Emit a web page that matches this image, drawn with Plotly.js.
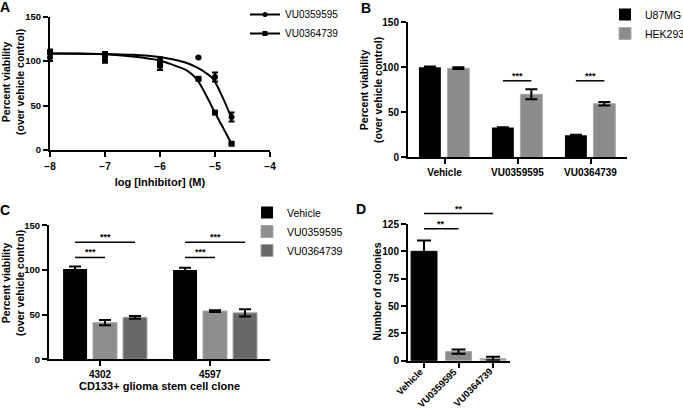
<!DOCTYPE html>
<html><head><meta charset="utf-8">
<script src="https://cdn.plot.ly/plotly-3.0.1.min.js"></script>
<style>html,body{margin:0;padding:0;background:#fff}#chart{width:683px;height:409px}</style>
</head><body><div id="chart"></div>
<script>
// ---------- Panel A : dose response ----------
const logDose   = [-8, -7, -6, -5.301, -5, -4.699];
const vu595Mean = [104, 101, 101, 104, 82, 37];
const vu595Err  = [4, 3, 3, 0, 5, 5];
const vu739Mean = [110, 107, 95, 80, 42, 7];
const vu739Err  = [3, 3, 5, 0, 0, 0];
// fitted curves
const fitLog = [-8, -7.5, -7, -6.5, -6, -5.83, -5.5, -5.34, -5.19, -5.04, -4.88, -4.7];
const fit595 = [108.5, 108.3, 108, 107, 104.5, 102.6, 97.5, 93, 87.6, 80.2, 61.6, 36];
const fit739 = [108.5, 108.2, 107.5, 105, 100.5, 97, 89, 80.2, 65, 46.7, 28, 7];
const compoundNames = ['VU0359595', 'VU0364739'];

// ---------- Panel B : cell lines ----------
const treatments = ['Vehicle', 'VU0359595', 'VU0364739'];
const cellLines  = ['U87MG', 'HEK293'];
const u87Mean = [100, 33, 24.5];
const u87Err  = [1, 0.5, 0.5];
const hekMean = [99, 70, 59.5];
const hekErr  = [1, 5.5, 2];
const sigBCats  = [1, 2];
const sigBLevel = [85, 85];
const sigBText  = ['***', '***'];

// ---------- Panel C : glioma stem cell clones ----------
const clones   = ['4302', '4597'];
const cSeries  = ['Vehicle', 'VU0359595', 'VU0364739'];
const cVehMean = [101, 100];
const cVehErr  = [3, 2.5];
const c595Mean = [41, 54];
const c595Err  = [3, 1];
const c739Mean = [47, 52];
const c739Err  = [1.5, 4];
const sigCClone = [0, 0, 1, 1];
const sigCTo    = [2, 1, 2, 1];   // series index compared with vehicle
const sigCLevel = [131, 114, 131, 114];
const sigCText  = ['***', '***', '***', '***'];

// ---------- Panel D : colonies ----------
const colonyCats = ['Vehicle', 'VU0359595', 'VU0364739'];
const colonyMean = [100, 8.3, 2];
const colonyErr  = [10, 2, 1.5];
const sigDTo    = [2, 1];
const sigDLevel = [134.5, 120.6];
const sigDText  = ['**', '**'];

// ---------- styling ----------
const FONT = 'Liberation Sans, Arial, Helvetica, sans-serif';
const tickF = {family: FONT, size: 10, color: '#000', weight: 'bold'};
const tickFs = {family: FONT, size: 9.5, color: '#000', weight: 'bold'};
const titleF = {family: FONT, size: 11, color: '#000', weight: 'bold'};
const yTitleF = {family: FONT, size: 10.5, color: '#000', weight: 'bold'};
const legF = {family: FONT, size: 10.5, color: '#000'};
function errB(arr, w) { return {type: 'data', array: arr, visible: true, color: '#000', thickness: 2, width: w}; }
const W = 683, H = 409;

// subplot geometry (pixels)
const domA = {x: [50 / W, 270 / W], y: [1 - 150 / H, 1 - 16.5 / H], r: [0, 150]};
const domB = {x: [408 / W, 627 / W], y: [1 - 157.3 / H, 1 - 22.3 / H], r: [0, 150]};
const domC = {x: [49 / W, 270 / W], y: [1 - 359.3 / H, 1 - 225.3 / H], r: [0, 150]};
const domD = {x: [408 / W, 510 / W], y: [1 - 360.7 / H, 1 - 224 / H], r: [0, 125]};

const traces = [];
// Panel A
traces.push({x: fitLog, y: fit595, mode: 'lines', line: {color: '#000', width: 2, shape: 'spline', smoothing: 1}, xaxis: 'x', yaxis: 'y', showlegend: false, hoverinfo: 'skip'});
traces.push({x: fitLog, y: fit739, mode: 'lines', line: {color: '#000', width: 2, shape: 'spline', smoothing: 1}, xaxis: 'x', yaxis: 'y', showlegend: false, hoverinfo: 'skip'});
traces.push({x: logDose, y: vu595Mean, mode: 'markers', marker: {symbol: 'circle', size: 6, color: '#000'}, error_y: errB(vu595Err, 3), cliponaxis: false, xaxis: 'x', yaxis: 'y', showlegend: false});
traces.push({x: logDose, y: vu739Mean, mode: 'markers', marker: {symbol: 'square', size: 6, color: '#000'}, error_y: errB(vu739Err, 3), cliponaxis: false, xaxis: 'x', yaxis: 'y', showlegend: false});
traces.push({x: [null], y: [null], name: compoundNames[0], mode: 'lines+markers', marker: {symbol: 'circle', size: 5, color: '#000'}, line: {color: '#000', width: 2}, xaxis: 'x', yaxis: 'y', legend: 'legend'});
traces.push({x: [null], y: [null], name: compoundNames[1], mode: 'lines+markers', marker: {symbol: 'square', size: 5, color: '#000'}, line: {color: '#000', width: 2}, xaxis: 'x', yaxis: 'y', legend: 'legend'});

// Panel B
const bOff = [-0.35, 0.04], bW = 0.3;
traces.push({type: 'bar', x: treatments, y: u87Mean, name: cellLines[0], offset: bOff[0], width: bW, marker: {color: '#000'}, error_y: errB(u87Err, 6), xaxis: 'x2', yaxis: 'y2', legend: 'legend2'});
traces.push({type: 'bar', x: treatments, y: hekMean, name: cellLines[1], offset: bOff[1], width: bW, marker: {color: '#8c8c8c', line: {color: '#ababab', width: 1}}, error_y: errB(hekErr, 6), xaxis: 'x2', yaxis: 'y2', legend: 'legend2'});

// Panel C
const cOff = [-0.336, -0.064, 0.209], cW = 0.218;
const cColors = ['#000', '#8e8e8e', '#686868'];
const cMeans = [cVehMean, c595Mean, c739Mean], cErrs = [cVehErr, c595Err, c739Err];
for (let i = 0; i < 3; i++) {
  traces.push({type: 'bar', x: clones, y: cMeans[i], name: cSeries[i], offset: cOff[i], width: cW,
    marker: {color: cColors[i], line: {color: i ? '#a5a5a5' : '#000', width: i ? 1 : 0}},
    error_y: errB(cErrs[i], 6), xaxis: 'x3', yaxis: 'y3', legend: 'legend3'});
}

// Panel D
const dW = 0.75;
traces.push({type: 'bar', x: colonyCats, y: colonyMean, offset: -dW / 2, width: dW,
  marker: {color: ['#000', '#8c8c8c', '#a3a3a3'], line: {color: ['#000', '#a8a8a8', '#b5b5b5'], width: 1}},
  error_y: errB(colonyErr, 7), xaxis: 'x4', yaxis: 'y4', showlegend: false});

// ---------- significance brackets ----------
const shapes = [], annotations = [];
function toPaperY(dom, v) { return dom.y[0] + (v - dom.r[0]) / (dom.r[1] - dom.r[0]) * (dom.y[1] - dom.y[0]); }
function sig(xref, dom, x0, x1, yv, txt) {
  const py = toPaperY(dom, yv);
  shapes.push({type: 'line', xref: xref, yref: 'paper', x0: x0, x1: x1, y0: py, y1: py, line: {color: '#000', width: 1.5}});
  annotations.push({xref: xref, yref: 'paper', x: (x0 + x1) / 2, y: py, text: txt, showarrow: false, yanchor: 'bottom', yshift: -2,
    font: {family: FONT, size: 9, color: '#000', weight: 'bold'}});
}
for (let i = 0; i < sigBCats.length; i++) {
  const c = sigBCats[i];
  sig('x2', domB, c + bOff[0] + bW / 2, c + bOff[1] + bW / 2, sigBLevel[i], sigBText[i]);
}
for (let i = 0; i < sigCClone.length; i++) {
  const c = sigCClone[i];
  sig('x3', domC, c + cOff[0] + cW / 2, c + cOff[sigCTo[i]] + cW / 2, sigCLevel[i], sigCText[i]);
}
for (let i = 0; i < sigDTo.length; i++) {
  sig('x4', domD, 0, sigDTo[i], sigDLevel[i], sigDText[i]);
}
// panel letters
const letters = [['A', 5, 7.5], ['B', 366, 8], ['C', 5, 210], ['D', 361, 209]];
letters.forEach(l => annotations.push({xref: 'paper', yref: 'paper', x: l[1] / W, y: 1 - l[2] / H, text: l[0], showarrow: false,
  xanchor: 'center', yanchor: 'middle', font: {family: FONT, size: 14, color: '#000', weight: 'bold'}}));
// y-axis titles (placed beside each axis)
const yTitles = [
  ['Percent viability<br>(over vehicle control)', 13, 82],
  ['Percent viability<br>(over vehicle control)', 371, 90],
  ['Percent viability<br>(over vehicle control)', 13, 283],
  ['Number of colonies', 376.5, 292]
];
yTitles.forEach(t => annotations.push({xref: 'paper', yref: 'paper', x: t[1] / W, y: 1 - t[2] / H, text: t[0], showarrow: false,
  textangle: -90, xanchor: 'center', yanchor: 'middle', font: yTitleF}));
// rotated category labels of panel D, ending at each tick
colonyCats.forEach((c, i) => annotations.push({xref: 'x4', yref: 'paper', x: i, y: 1 - 363 / H, text: c, showarrow: false,
  textangle: -45, xanchor: 'right', yanchor: 'top', xshift: 4, font: Object.assign({}, tickF, {size: 9.5})}));

function ax(extra) {
  return Object.assign({showline: true, linecolor: '#000', linewidth: 2, ticks: 'outside', ticklen: 5, tickwidth: 2, tickcolor: '#000',
    showgrid: false, zeroline: false, tickfont: tickF, fixedrange: true, automargin: false}, extra);
}
const legBase = {xref: 'container', yref: 'container', xanchor: 'left', yanchor: 'top', bgcolor: 'rgba(0,0,0,0)', traceorder: 'normal', borderwidth: 0};

const layout = {
  width: W, height: H, margin: {l: 0, r: 0, t: 0, b: 0, autoexpand: false}, paper_bgcolor: '#fff', plot_bgcolor: 'rgba(0,0,0,0)',
  barmode: 'overlay', showlegend: true, font: {family: FONT, color: '#000'},
  xaxis: ax({domain: domA.x, range: [-8, -4], tickvals: [-8, -7, -6, -5, -4], anchor: 'y', ticklabelstandoff: 1,
    title: {text: 'log [Inhibitor] (M)', font: titleF, standoff: 7}}),
  yaxis: ax({domain: domA.y, range: domA.r, tickvals: [0, 50, 100, 150], anchor: 'x', tickfont: tickFs}),
  xaxis2: ax({domain: domB.x, range: [-0.5, 2.5], type: 'category', anchor: 'y2'}),
  yaxis2: ax({domain: domB.y, range: domB.r, tickvals: [0, 50, 100, 150], anchor: 'x2'}),
  xaxis3: ax({domain: domC.x, range: [-0.464, 1.545], type: 'category', anchor: 'y3',
    title: {text: 'CD133+ glioma stem cell clone', font: titleF, standoff: 3}}),
  yaxis3: ax({domain: domC.y, range: domC.r, tickvals: [0, 50, 100, 150], anchor: 'x3', tickfont: tickFs}),
  xaxis4: ax({domain: domD.x, range: [-0.464, 2.49], type: 'category', anchor: 'y4', showticklabels: false}),
  yaxis4: ax({domain: domD.y, range: domD.r, tickvals: [0, 25, 50, 75, 100, 125], anchor: 'x4'}),
  legend:  Object.assign({}, legBase, {x: 245 / W, y: 1, font: Object.assign({}, legF, {size: 10}), tracegroupgap: 0}),
  legend2: Object.assign({}, legBase, {x: 605 / W, y: 1, font: legF}),
  legend3: Object.assign({}, legBase, {x: 247 / W, y: 1 - 198 / H, font: legF}),
  shapes: shapes, annotations: annotations
};
Plotly.newPlot('chart', traces, layout, {displayModeBar: false, staticPlot: true});
</script></body></html>
